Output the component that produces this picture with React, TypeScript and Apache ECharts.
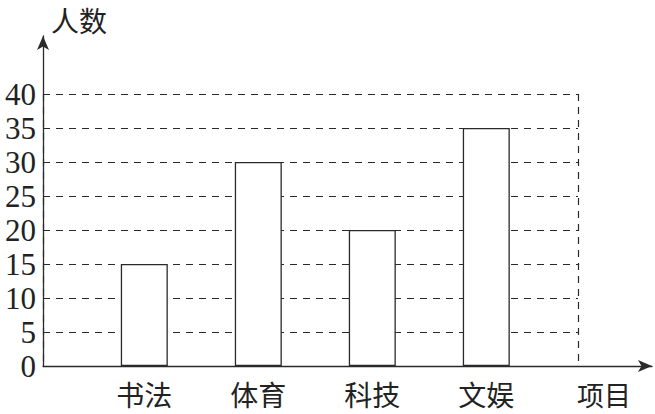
import React, { useEffect, useRef } from 'react';
import * as echarts from 'echarts';

const categories = ['书法', '体育', '科技', '文娱'];
const counts = [15, 30, 20, 35];
const yMin = 0;
const yMax = 40;
const yStep = 5;

const ink = '#2a2a2a';
const serif = 'Liberation Serif';
const cjk = 'Noto Sans CJK SC';

export default function App() {
  const chartRef = useRef<HTMLDivElement>(null);

  useEffect(() => {
    if (!chartRef.current) return;
    const chart = echarts.init(chartRef.current, null, { renderer: 'svg' });

    const hidden = { show: false };

    const option = {
      animation: false,
      backgroundColor: '#fff',
      grid: [
        // frame carrying the two arrows
        { left: 43, right: 3, top: 36, bottom: 48 },
        // dashed reference grid + y labels
        { left: 43, right: 77, top: 94, bottom: 48 },
        // bars
        { left: 87.3, right: 111.7, top: 94, bottom: 48 }
      ],
      xAxis: [
        {
          gridIndex: 0,
          type: 'value',
          min: 0,
          max: 1,
          axisLine: {
            show: true,
            symbol: ['none', 'arrow'],
            symbolSize: [9, 14],
            lineStyle: { color: ink, width: 1.3 }
          },
          axisTick: hidden,
          axisLabel: hidden,
          splitLine: hidden
        },
        {
          gridIndex: 1,
          type: 'value',
          min: 0,
          max: 1,
          interval: 1,
          axisLine: hidden,
          axisTick: hidden,
          axisLabel: hidden,
          splitLine: {
            show: true,
            lineStyle: { color: ink, width: 1.2, type: [7, 6] }
          }
        },
        {
          gridIndex: 2,
          type: 'category',
          data: categories,
          axisLine: hidden,
          axisTick: hidden,
          splitLine: hidden,
          axisLabel: {
            color: '#222',
            fontFamily: cjk,
            fontSize: 28,
            margin: 14
          }
        }
      ],
      yAxis: [
        {
          gridIndex: 0,
          type: 'value',
          min: 0,
          max: 1,
          axisLine: {
            show: true,
            symbol: ['none', 'arrow'],
            symbolSize: [9, 14],
            lineStyle: { color: ink, width: 1.3 }
          },
          axisTick: hidden,
          axisLabel: hidden,
          splitLine: hidden
        },
        {
          gridIndex: 1,
          type: 'value',
          min: yMin,
          max: yMax,
          interval: yStep,
          axisLine: hidden,
          axisTick: hidden,
          axisLabel: {
            color: '#222',
            fontFamily: serif,
            fontSize: 31,
            margin: 7
          },
          splitLine: {
            show: true,
            lineStyle: { color: ink, width: 1.2, type: [7, 6] }
          }
        },
        {
          gridIndex: 2,
          type: 'value',
          min: yMin,
          max: yMax,
          show: false
        }
      ],
      graphic: [
        {
          type: 'text',
          left: 51,
          top: 6,
          style: { text: '人数', fill: '#222', font: `28px "${cjk}"` }
        },
        {
          type: 'text',
          left: 577,
          top: 381,
          style: { text: '项目', fill: '#222', font: `27px "${cjk}"` }
        }
      ],
      series: [
        {
          type: 'bar',
          xAxisIndex: 2,
          yAxisIndex: 2,
          data: counts,
          barWidth: 47,
          itemStyle: {
            color: '#fff',
            borderColor: ink,
            borderWidth: 1.3
          },
          z: 3
        }
      ]
    };

    chart.setOption(option);
    return () => chart.dispose();
  }, []);

  return (
    <div
      ref={chartRef}
      style={{ position: 'fixed', left: 0, top: 0, width: 655, height: 414 }}
    />
  );
}
